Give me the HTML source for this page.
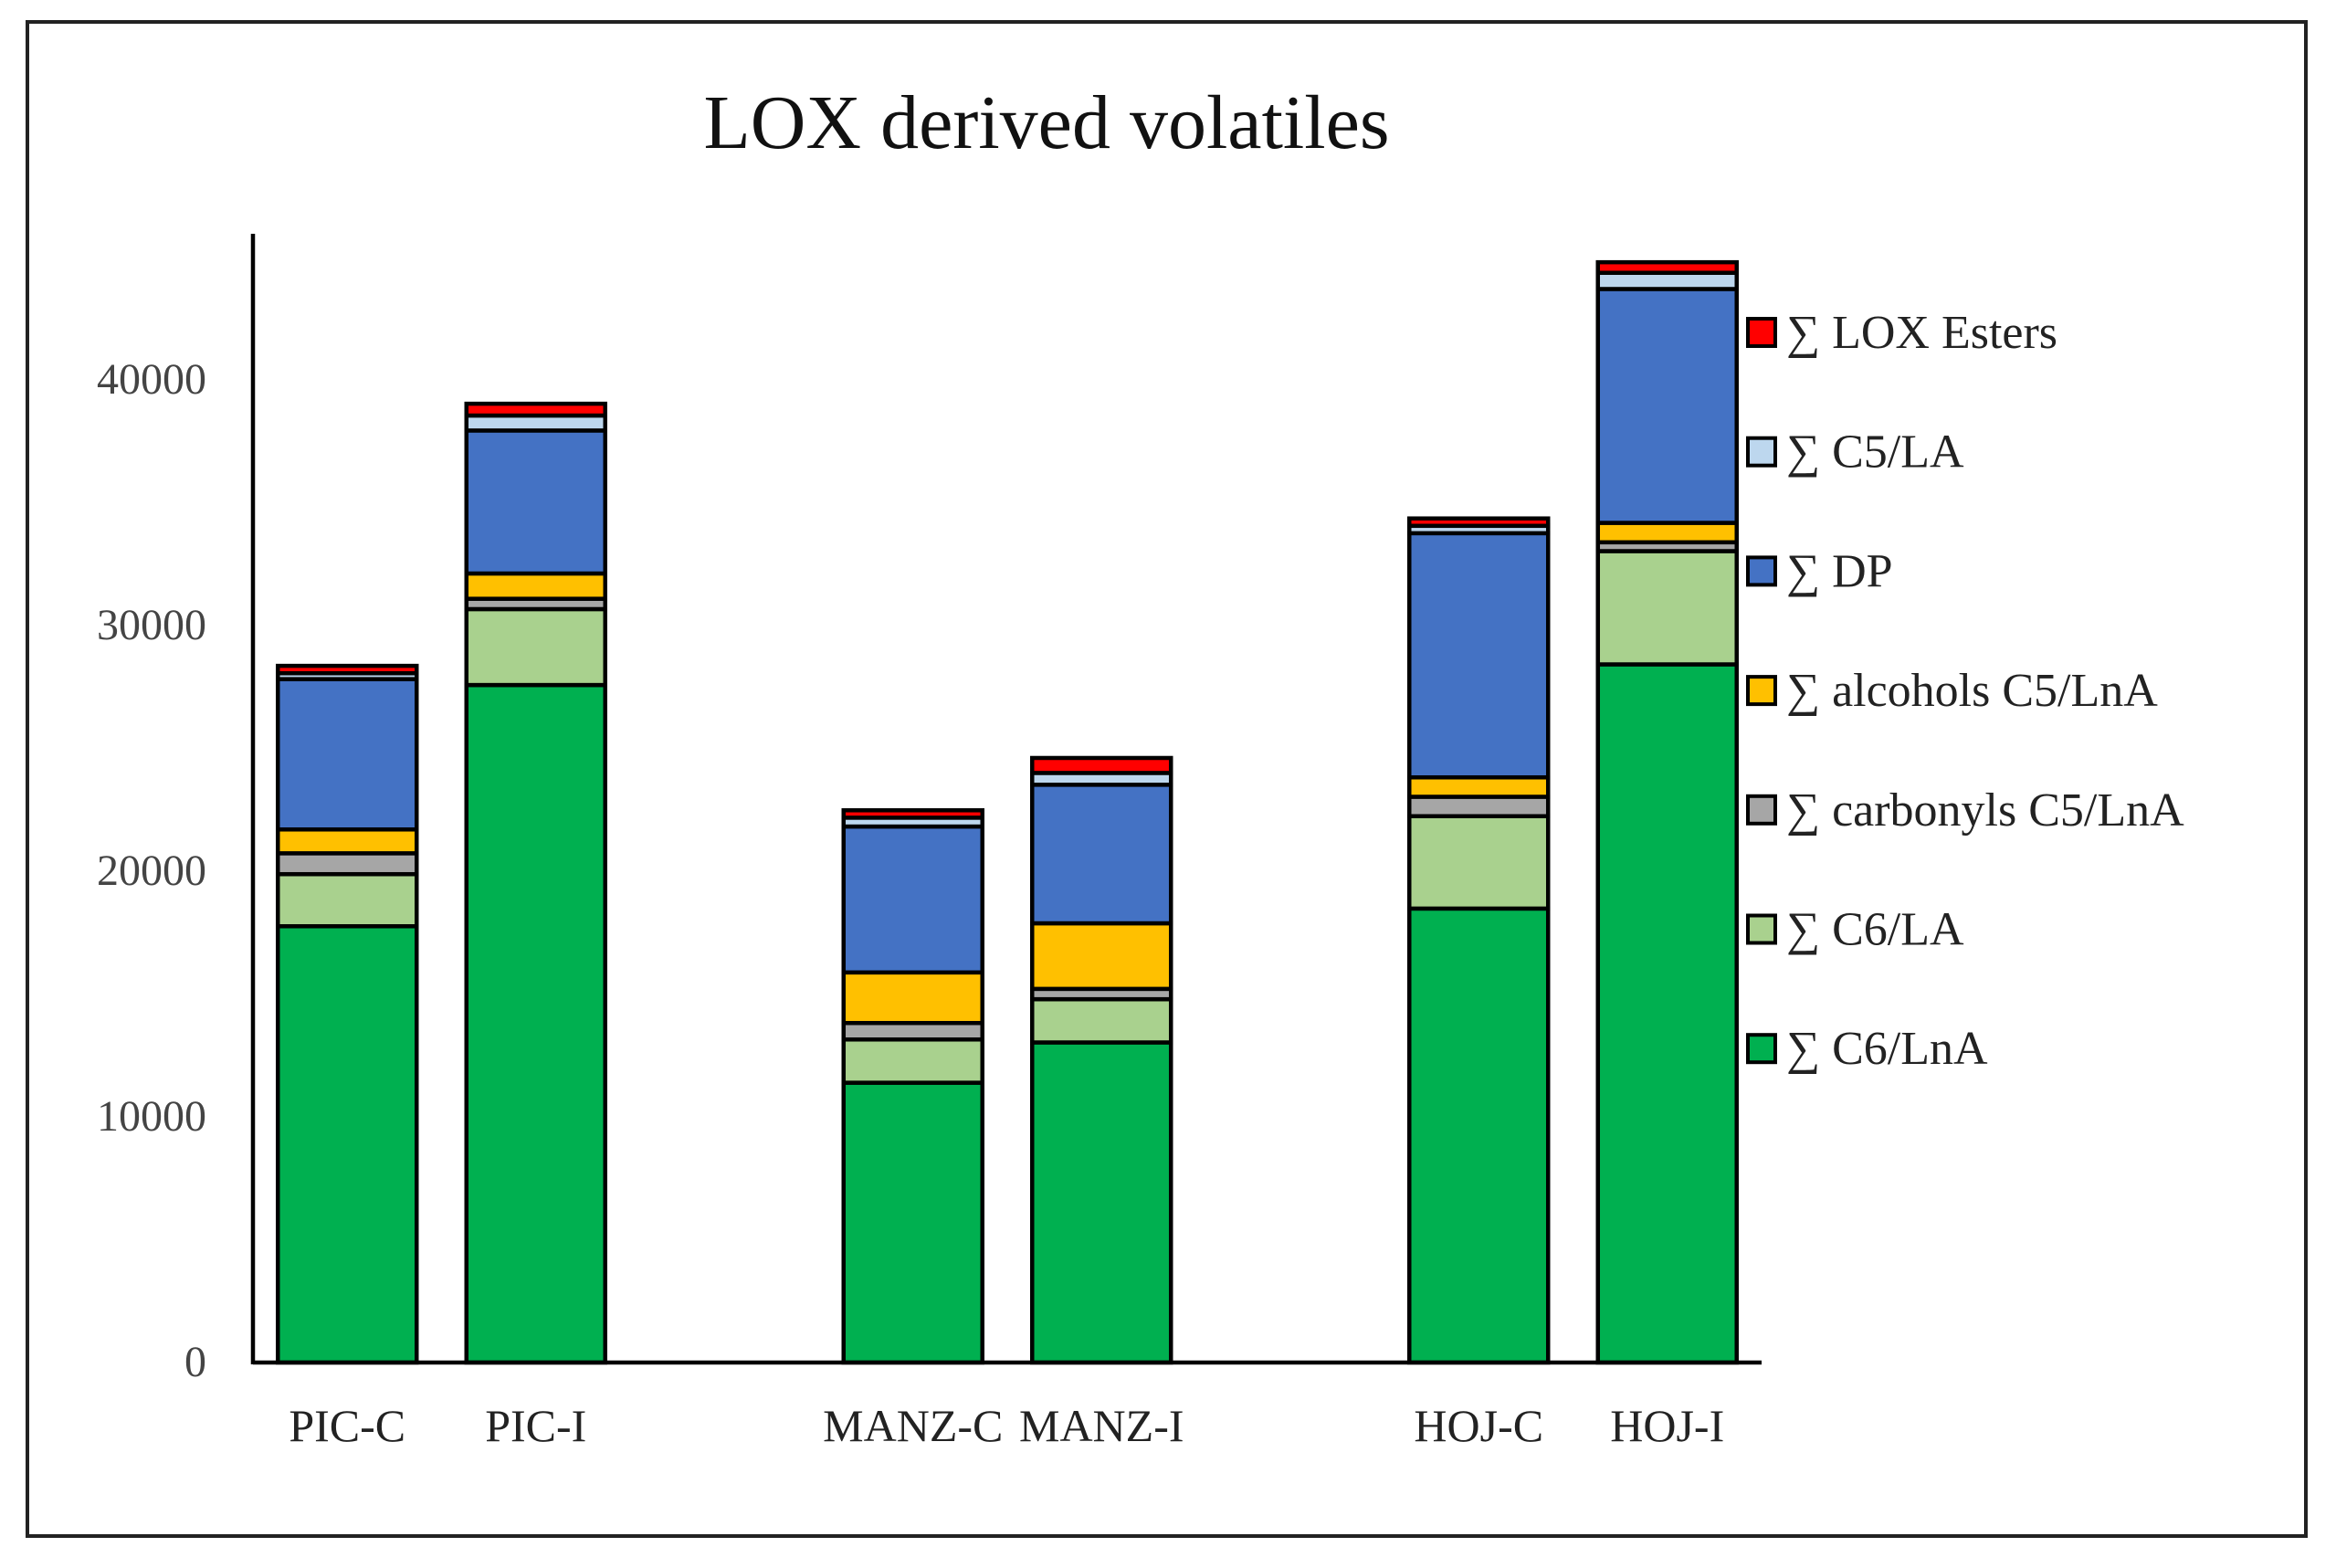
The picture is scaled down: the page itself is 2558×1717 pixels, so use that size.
<!DOCTYPE html>
<html><head><meta charset="utf-8"><style>
html,body{margin:0;padding:0;background:#fff;}
svg{display:block;font-family:"Liberation Serif",serif;}
</style></head><body>
<svg id="chart" width="2558" height="1717" viewBox="0 0 2558 1717">
<rect x="30" y="24" width="2495" height="1658" fill="#fff" stroke="#222" stroke-width="4"/>
<text x="1146" y="162" font-size="84" text-anchor="middle" fill="#111">LOX derived volatiles</text>
<g id="bars"></g>
<g id="axes"></g>
<g id="legend"></g>
</svg>
<script>
const categories = ["PIC-C","PIC-I","","MANZ-C","MANZ-I","","HOJ-C","HOJ-I"];
const seriesNames = ["∑ C6/LnA","∑ C6/LA","∑ carbonyls C5/LnA","∑ alcohols C5/LnA","∑ DP","∑ C5/LA","∑  LOX Esters"];
const c6LnA     = [17760,27580,null,11390,13030,null,18480,28420];
const c6LA      = [2120,3090,null,1760,1760,null,3760,4610];
const carbonyls = [850,420,null,670,420,null,790,360];
const alcohols  = [970,1030,null,2060,2670,null,790,790];
const dp        = [6120,5820,null,5940,5640,null,9940,9520];
const c5LA      = [240,610,null,360,480,null,300,660];
const loxEsters = [300,480,null,300,610,null,300,430];
const yTicks = [0,10000,20000,30000,40000];
const colors = ["#00b050","#a9d18e","#a6a6a6","#ffc000","#4472c4","#bdd7ee","#ff0000"];
const series = [c6LnA,c6LA,carbonyls,alcohols,dp,c5LA,loxEsters];

const NS="http://www.w3.org/2000/svg";
const X0=277,X1=1929,Y0=1492,PX_PER=269/10000;
const slot=(X1-X0)/categories.length, bw=slot*0.736;
function yScale(v){return Y0-v*PX_PER;}
function xCenter(i){return X0+slot*(i+0.5);}
function mk(tag,attrs){const e=document.createElementNS(NS,tag);for(const k in attrs)e.setAttribute(k,attrs[k]);return e;}

const gb=document.getElementById('bars');
categories.forEach((c,i)=>{
  if(c6LnA[i]===null) return;
  let acc=0;
  series.forEach((s,k)=>{
    const v=s[i];
    const r=mk('rect',{x:xCenter(i)-bw/2,y:yScale(acc+v),width:bw,height:v*PX_PER,fill:colors[k],stroke:'#000','stroke-width':4.5});
    
    
    gb.appendChild(r);
    acc+=v;
  });
  const t=mk('text',{x:xCenter(i),y:1578,'font-size':50,'text-anchor':'middle',fill:'#222'});
  t.textContent=c;
  
  
  gb.appendChild(t);
});

const ga=document.getElementById('axes');
let l=mk('line',{x1:X0,y1:256,x2:X0,y2:Y0+2,stroke:'#000','stroke-width':4.5});


ga.appendChild(l);
l=mk('line',{x1:X0,y1:Y0,x2:X1,y2:Y0,stroke:'#000','stroke-width':4.5});


ga.appendChild(l);
yTicks.forEach(v=>{
  const t=mk('text',{x:226,y:yScale(v)+15,'font-size':48,'text-anchor':'end',fill:'#444'});
  t.textContent=String(v);
  
  
  ga.appendChild(t);
});

const gl=document.getElementById('legend');
const legendOrder=[6,5,4,3,2,1,0];
legendOrder.forEach((k,j)=>{
  const cy=364+j*130.7;
  const r=mk('rect',{x:1914,y:cy-15,width:30,height:30,fill:colors[k],stroke:'#000','stroke-width':4});
  
  
  gl.appendChild(r);
  const t=mk('text',{x:1956,y:cy+17,'font-size':52,fill:'#222'});
  t.setAttribute('xml:space','preserve');
  t.textContent=seriesNames[k];
  
  
  gl.appendChild(t);
});
</script>
</body></html>
